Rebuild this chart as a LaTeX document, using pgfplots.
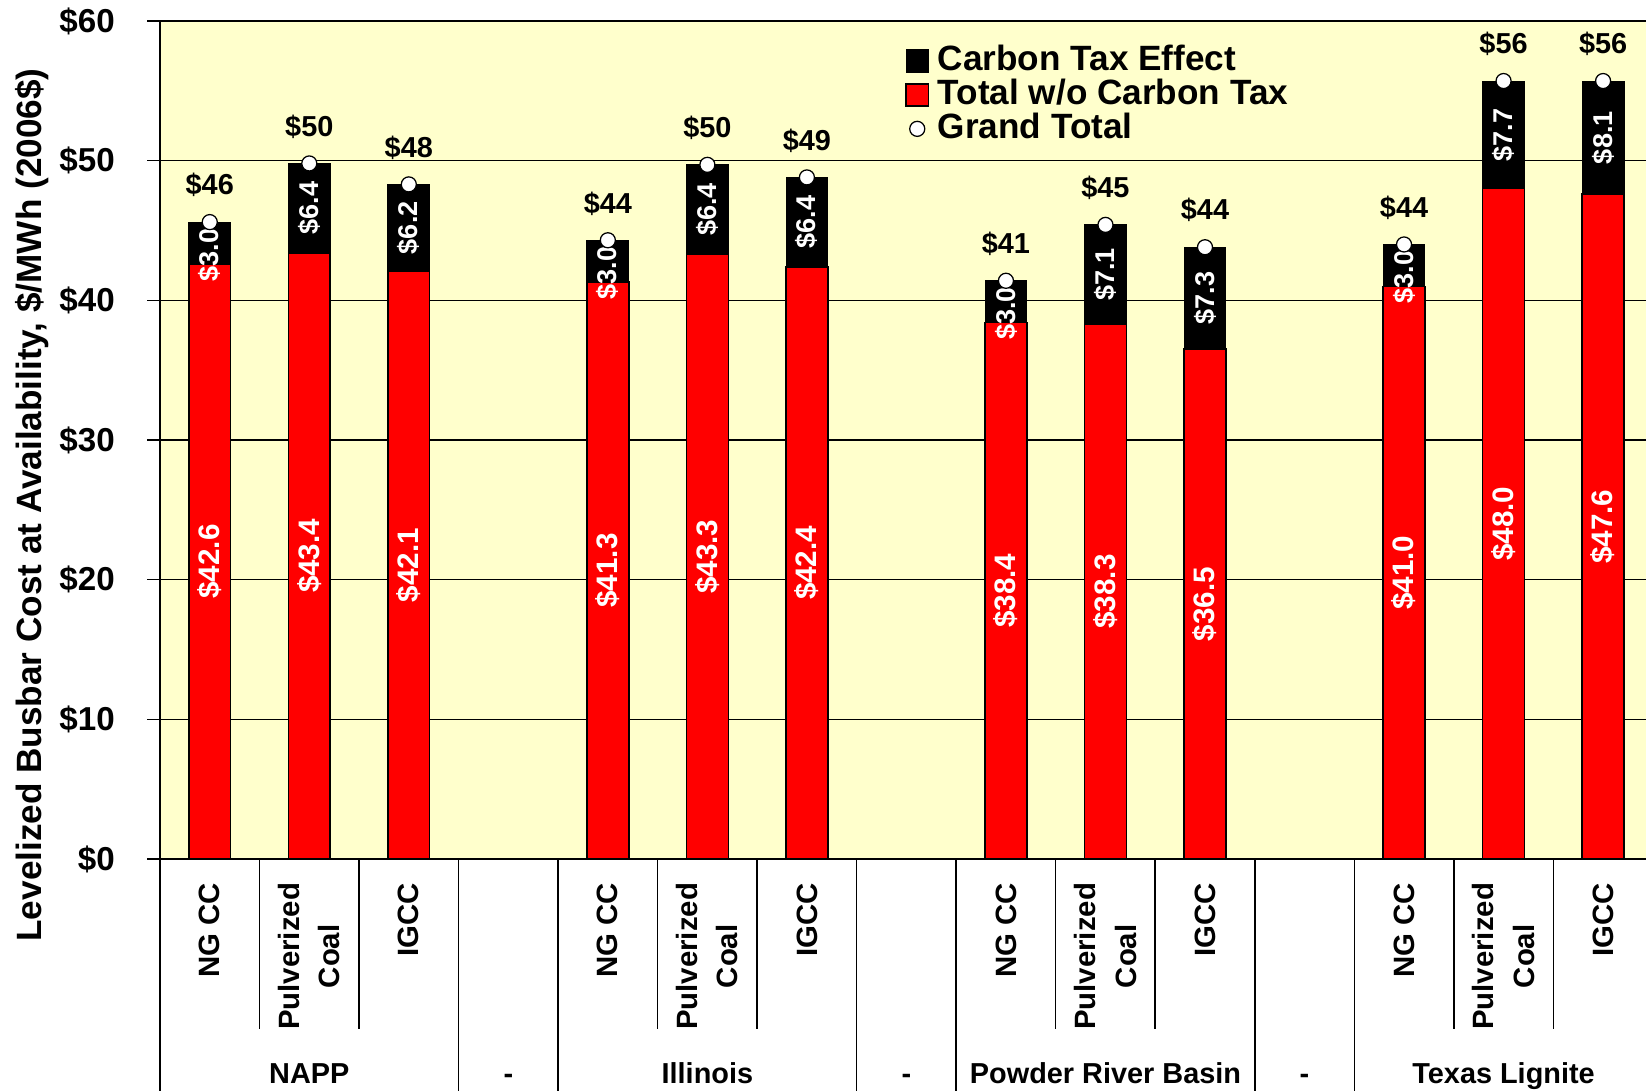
\documentclass[border=0pt]{standalone}
\usepackage{fontspec}
\setmainfont{Liberation Sans}
\usepackage{pgfplots}
\pgfplotsset{compat=1.18}
\usepackage{pgfplotstable}

\definecolor{bgyellow}{RGB}{255,255,204}

% x = slot on the axis, red = total w/o carbon tax, blk = carbon tax effect
% adj = how far the carbon tax label sits below the middle of its segment
\pgfplotstableread{
x  red  blk tot  lab adj
0  42.6 3.0 45.6 46  0.85
1  43.4 6.4 49.8 50  0
2  42.1 6.2 48.3 48  0
4  41.3 3.0 44.3 44  0.85
5  43.3 6.4 49.7 50  0
6  42.4 6.4 48.8 49  0
8  38.4 3.0 41.4 41  0.85
9  38.3 7.1 45.4 45  0
10 36.5 7.3 43.8 44  0
12 41.0 3.0 44.0 44  0.85
13 48.0 7.7 55.7 56  0
14 47.6 8.1 55.7 56  0
}\costs

\pgfplotsset{
  sqlegend/.style={legend image code/.code={\draw[##1] (0cm,-0.155cm) rectangle (0.31cm,0.155cm);}},
  circlegend/.style={legend image code/.code={\draw[##1] plot coordinates {(0.155cm,0cm)};}},
}
\tikzset{grp/.style={anchor=base, yshift=-3.14cm, font=\fontsize{11.5}{13}\selectfont\bfseries}}

\begin{document}
\begin{tikzpicture}
\useasboundingbox (-2.24cm,-3.248cm) rectangle (20.804cm,12.026cm);
\begin{axis}[
  at={(0,0)}, anchor=south west,
  width=20.90cm, height=11.732cm, scale only axis,
  xmin=-0.5, xmax=14.5, ymin=0, ymax=60,
  axis background/.style={fill=bgyellow},
  axis x line*=bottom, axis y line*=left,
  axis line style={-, line width=0.7pt},
  ytick={0,10,...,60},
  yticklabels={\$0,\$10,\$20,\$30,\$40,\$50,\$60},
  ymajorgrids, grid style={black, line width=0.6pt},
  ytick align=outside, ytick pos=left, major tick length=5pt,
  ytick style={black, line width=0.6pt},
  xtick={0,...,14},
  xticklabels={NG CC,{Pulverized\\Coal},IGCC,{},NG CC,{Pulverized\\Coal},IGCC,{},NG CC,{Pulverized\\Coal},IGCC,{},NG CC,{Pulverized\\Coal},IGCC},
  xtick style={draw=none},
  xticklabel style={rotate=90, anchor=east, align=center, font=\fontsize{11.7}{16}\selectfont\bfseries},
  xticklabel shift=6pt,
  yticklabel style={font=\fontsize{13.2}{15}\selectfont\bfseries, xshift=-9.5pt},
  /pgf/number format/assume math mode=true,
  ylabel={Levelized Busbar Cost at Availability, \$/MWh (2006\$)},
  every axis y label/.style={at={(axis description cs:-0.086,0.4224)}, rotate=90, anchor=center, font=\fontsize{14}{16}\selectfont\bfseries},
  clip=false,
  legend style={at={(0.499,0.973)}, anchor=north west, draw=none, fill=none, inner sep=0pt,
    font=\fontsize{14}{16}\selectfont\bfseries,
    nodes={inner sep=0.5pt, text height=10pt, text depth=2.5pt},
    /tikz/every odd column/.append style={column sep=3pt}},
  legend cell align=left,
]
\addlegendimage{sqlegend, fill=black, draw=black}
\addlegendentry{Carbon Tax Effect}
\addlegendimage{sqlegend, fill=red, draw=black, line width=0.6pt}
\addlegendentry{Total w/o Carbon Tax}
\addlegendimage{only marks, mark=*, mark size=3pt, mark options={fill=white, draw=black, line width=0.5pt}, circlegend}
\addlegendentry{Grand Total}

% black bar to the grand total, red bar over it
\addplot[ybar, bar shift=0pt, bar width=0.42, fill=black, draw=black, forget plot]
  table[x=x, y=tot]{\costs};
\addplot[ybar, bar shift=0pt, bar width=0.42, fill=red, draw=black, line width=0.6pt, forget plot]
  table[x=x, y=red]{\costs};

% value labels in the bars
\addplot[draw=none, mark=none, forget plot, point meta=explicit symbolic,
  nodes near coords={\$\pgfplotspointmeta},
  every node near coord/.append style={rotate=90, anchor=center, text=white, font=\fontsize{11.8}{13}\selectfont\bfseries}]
  table[x=x, y expr=\thisrow{red}/2, meta=red]{\costs};
\addplot[draw=none, mark=none, forget plot, point meta=explicit symbolic,
  nodes near coords={\$\pgfplotspointmeta},
  every node near coord/.append style={rotate=90, anchor=center, text=white, font=\fontsize{10.8}{12}\selectfont\bfseries}]
  table[x=x, y expr=\thisrow{red}+\thisrow{blk}/2-\thisrow{adj}, meta=blk]{\costs};

% grand total
\addplot[only marks, mark=*, mark size=3pt, mark options={fill=white, draw=black, line width=0.5pt},
  forget plot, point meta=explicit symbolic,
  nodes near coords={\$\pgfplotspointmeta},
  every node near coord/.append style={anchor=center, yshift=14.7pt, text=black, font=\fontsize{11.5}{14}\selectfont\bfseries}]
  table[x=x, y=tot, meta=lab]{\costs};

% category separators
\pgfplotsinvokeforeach{0.5,1.5,4.5,5.5,8.5,9.5,12.5,13.5}{
  \draw[line width=0.6pt] (axis cs:#1,0) -- ++(0pt,-2.38cm);
}
\pgfplotsinvokeforeach{-0.5,2.5,3.5,6.5,7.5,10.5,11.5}{
  \draw[line width=0.6pt] (axis cs:#1,0) -- ++(0pt,-3.3cm);
}
\node[grp] at (axis cs:1,0) {NAPP};
\node[grp] at (axis cs:3,0) {-};
\node[grp] at (axis cs:5,0) {Illinois};
\node[grp] at (axis cs:7,0) {-};
\node[grp] at (axis cs:9,0) {Powder River Basin};
\node[grp] at (axis cs:11,0) {-};
\node[grp] at (axis cs:13,0) {Texas Lignite};
\end{axis}
\end{tikzpicture}
\end{document}
